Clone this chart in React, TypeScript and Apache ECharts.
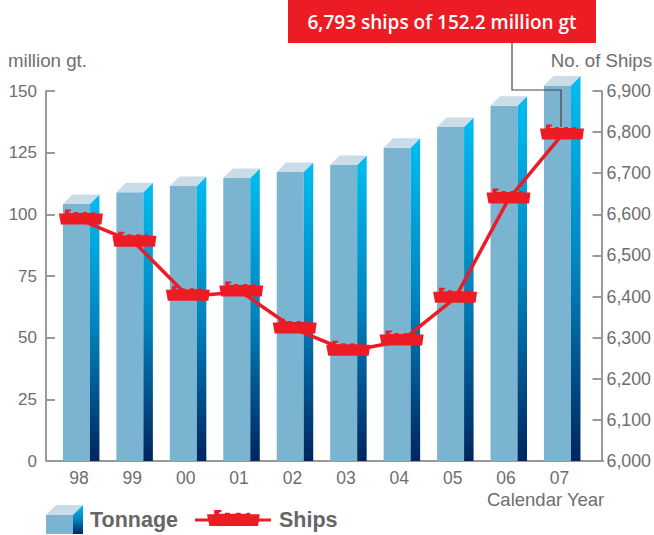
import React, { useEffect, useRef } from "react";
import * as echarts from "echarts";

const years = ["98", "99", "00", "01", "02", "03", "04", "05", "06", "07"];
const tonnage = [104.2, 109, 111.5, 114.7, 117.2, 120, 127, 135.4, 144, 152.2];
const ships = [6586, 6532, 6401, 6411, 6321, 6267, 6292, 6396, 6637, 6793];

const RED = "#ed1c24";
const GREY = "#6d6e70";
const FRONT = "#7ab4d1";
const TOP = "#c9dce7";
const SHIP_D =
  "M6 0L12 0L12 2L10 2L10 3.5L15 3.5L15 2.5L19 2.5L19 3.5L24 3.5L24 2.5L28 2.5L28 3.5L33 3.5L33 2.5L36 2.5L36 4L44 4L42.5 15L2 15L0 4L6 4Z";
const SHIP_PATH = "path://" + SHIP_D;

echarts.graphic.registerShape("ship", echarts.graphic.extendPath(SHIP_D, {}));

const sideGradient = () =>
  new echarts.graphic.LinearGradient(0, 0, 0, 1, [
    { offset: 0, color: "#00bdf0" },
    { offset: 0.5, color: "#0083bd" },
    { offset: 1, color: "#00255f" },
  ]);

const renderBar = (params: any, api: any) => {
  const idx = api.value(0);
  const [cx, yTop] = api.coord([idx, api.value(1)]);
  const [, yBase] = api.coord([idx, 0]);
  const l = cx - 18;
  const r = l + 27;
  const d = 9.5;
  return {
    type: "group",
    children: [
      { type: "rect", shape: { x: l, y: yTop, width: r - l, height: yBase - yTop }, style: { fill: FRONT } },
      {
        type: "polygon",
        shape: { points: [[r, yTop], [r + d, yTop - d], [r + d, yBase], [r, yBase]] },
        style: { fill: sideGradient() },
      },
      {
        type: "polygon",
        shape: { points: [[l, yTop], [l + d, yTop - d], [r + d, yTop - d], [r, yTop]] },
        style: { fill: TOP },
      },
    ],
  };
};

export default function App() {
  const ref = useRef<HTMLDivElement>(null);
  useEffect(() => {
    const chart = echarts.init(ref.current!, undefined, { renderer: "svg" });
    const font = "'Liberation Sans', Arial, sans-serif";
    const axisLine = { show: true, lineStyle: { color: "#999999", width: 2 } };
    const axisTick = { show: true, inside: true, length: 9, lineStyle: { color: "#999999", width: 2 } };
    chart.setOption({
      animation: false,
      backgroundColor: "#ffffff",
      grid: [
        { left: 54.2, width: 537, top: 91, height: 370 },
        { left: 52.2, width: 534, top: 91, height: 370 },
      ],
      xAxis: [
        { type: "category", gridIndex: 0, data: years, show: false },
        {
          type: "category",
          gridIndex: 1,
          data: years,
          axisLine: { show: false },
          axisTick: { show: false },
          axisLabel: { color: GREY, fontSize: 17.5, fontFamily: font, margin: 8 },
        },
      ],
      yAxis: [
        {
          type: "value",
          gridIndex: 0,
          position: "left",
          offset: 8.2,
          min: 0,
          max: 150,
          interval: 25,
          splitLine: { show: false },
          axisLine,
          axisTick,
          axisLabel: { color: GREY, fontSize: 17, fontFamily: font, margin: 9 },
        },
        {
          type: "value",
          gridIndex: 0,
          position: "right",
          offset: 12.8,
          min: 6000,
          max: 6900,
          interval: 100,
          splitLine: { show: false },
          axisLine,
          axisTick,
          axisLabel: {
            color: GREY,
            fontSize: 17.8,
            fontFamily: font,
            margin: 5,
            formatter: (v: number) => v.toLocaleString("en-US"),
          },
        },
        { type: "value", gridIndex: 1, show: false },
      ],
      series: [
        {
          type: "custom",
          name: "Tonnage",
          xAxisIndex: 0,
          yAxisIndex: 0,
          clip: false,
          renderItem: renderBar,
          encode: { x: 0, y: 1 },
          data: tonnage.map((v, i) => [i, v]),
          z: 2,
        },
        {
          type: "line",
          name: "Ships",
          xAxisIndex: 0,
          yAxisIndex: 1,
          data: ships,
          symbol: SHIP_PATH,
          symbolSize: [44, 15],
          symbolOffset: [0, -3],
          showSymbol: true,
          itemStyle: { color: RED },
          lineStyle: { color: RED, width: 3.5 },
          z: 3,
        },
      ],
      graphic: [
        { type: "line", z: 1, shape: { x1: 46, y1: 461, x2: 604, y2: 461 }, style: { stroke: "#999999", lineWidth: 2 } },
        { type: "rect", z: 10, shape: { x: 288, y: 0, width: 308, height: 43 }, style: { fill: RED } },
        {
          type: "text",
          z: 11,
          x: 442,
          y: 22,
          style: {
            text: "6,793 ships of 152.2 million gt",
            fill: "#ffffff",
            font: "600 19px 'Open Sans', sans-serif",
            align: "center",
            verticalAlign: "middle",
          },
        },
        {
          type: "polyline",
          z: 10,
          shape: { points: [[512, 43], [512, 90], [561, 90], [561, 127]] },
          style: { stroke: "#444444", lineWidth: 1.2, fill: "none" },
        },
        { type: "text", x: 8, y: 60, style: { text: "million gt.", fill: GREY, font: `18.7px ${font}`, verticalAlign: "middle" } },
        { type: "text", x: 652, y: 60, style: { text: "No. of Ships", fill: GREY, font: `18.6px ${font}`, align: "right", verticalAlign: "middle" } },
        { type: "text", x: 487, y: 499, style: { text: "Calendar Year", fill: GREY, font: `18.5px ${font}`, verticalAlign: "middle" } },
        { type: "rect", shape: { x: 46, y: 515, width: 27, height: 19 }, style: { fill: FRONT } },
        { type: "polygon", shape: { points: [[46, 515], [56, 505], [83, 505], [73, 515]] }, style: { fill: TOP } },
        { type: "polygon", shape: { points: [[73, 515], [83, 505], [83, 534], [73, 534]] }, style: { fill: sideGradient() } },
        { type: "text", x: 90, y: 520, style: { text: "Tonnage", fill: "#666666", font: `bold 21.5px ${font}`, verticalAlign: "middle" } },
        { type: "line", shape: { x1: 195, y1: 520, x2: 271, y2: 520 }, style: { stroke: RED, lineWidth: 3 } },
        { type: "ship", x: 207, y: 510, scaleX: 1.2, scaleY: 1.07, style: { fill: RED } },
        { type: "text", x: 279, y: 520, style: { text: "Ships", fill: "#666666", font: `bold 21.5px ${font}`, verticalAlign: "middle" } },
      ],
    });
    return () => chart.dispose();
  }, []);
  return <div ref={ref} style={{ width: 654, height: 535, position: "absolute", left: 0, top: 0 }} />;
}
